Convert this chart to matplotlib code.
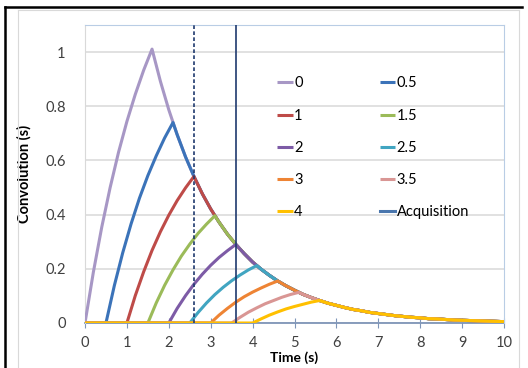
"""Convolution of acquisition windows with an exponential decay."""

import matplotlib

matplotlib.use("Agg")
import matplotlib.pyplot as plt
from matplotlib.lines import Line2D

plt.rcParams["font.family"] = ["Lato", "DejaVu Sans"]

# Series start times (s) and labels
starts = [0, 0.5, 1, 1.5, 2, 2.5, 3, 3.5, 4]
labels = ["0", "0.5", "1", "1.5", "2", "2.5", "3", "3.5", "4"]
colors = ["#a797c5", "#3b73b9", "#be4b48", "#9bbb59", "#7d5ba6",
          "#41a5c1", "#ee8434", "#d99694", "#ffc000"]

# Rising part of each curve, sampled every 0.2 s from its start time
rise_step = 0.2
rise_0 = [0, 0.188, 0.354, 0.500, 0.630, 0.744, 0.844, 0.933, 1.011]
rise_05 = [0, 0.138, 0.259, 0.366, 0.461, 0.544, 0.617, 0.683, 0.740]
rise_1 = [0, 0.101, 0.189, 0.268, 0.337, 0.398, 0.452, 0.499, 0.541]
rise_15 = [0, 0.074, 0.139, 0.196, 0.247, 0.291, 0.331, 0.365, 0.396]
rise_2 = [0, 0.054, 0.101, 0.143, 0.180, 0.213, 0.242, 0.267, 0.290]
rise_25 = [0, 0.039, 0.074, 0.105, 0.132, 0.156, 0.177, 0.196, 0.212]
rise_3 = [0, 0.029, 0.054, 0.077, 0.097, 0.114, 0.129, 0.143, 0.155]
rise_35 = [0, 0.021, 0.040, 0.056, 0.071, 0.083, 0.095, 0.105, 0.113]
rise_4 = [0, 0.015, 0.029, 0.041, 0.052, 0.061, 0.069, 0.077, 0.083]
rises = [rise_0, rise_05, rise_1, rise_15, rise_2, rise_25, rise_3, rise_35, rise_4]

# Common decay envelope that every curve follows after its peak
decay_t = [1.6, 1.8, 2.0, 2.2, 2.4, 2.6, 2.8, 3.0, 3.2, 3.4, 3.6, 3.8, 4.0,
           4.2, 4.4, 4.6, 4.8, 5.0, 5.2, 5.4, 5.6, 5.8, 6.0, 6.2, 6.4, 6.6,
           6.8, 7.0, 7.2, 7.4, 7.6, 7.8, 8.0, 8.2, 8.4, 8.6, 8.8, 9.0, 9.2,
           9.4, 9.6, 9.8, 10.0]
decay_y = [1.011, 0.892, 0.787, 0.695, 0.613, 0.541, 0.477, 0.421, 0.372,
           0.328, 0.290, 0.256, 0.225, 0.199, 0.176, 0.155, 0.137, 0.121,
           0.106, 0.094, 0.083, 0.073, 0.065, 0.057, 0.050, 0.045, 0.039,
           0.035, 0.031, 0.027, 0.024, 0.021, 0.019, 0.016, 0.015, 0.013,
           0.011, 0.010, 0.009, 0.008, 0.007, 0.006, 0.005]

# Acquisition times (s)
acq_dashed = 2.6
acq_solid = 3.6

fig = plt.figure(figsize=(5.28, 3.68), dpi=100)
ax = fig.add_axes([85 / 528, 45 / 368, 419 / 528, 298 / 368])

# outer frame: black top/left, grey chart border
fig.add_artist(Line2D([5 / 528, 522 / 528], [361 / 368, 361 / 368], color="black", lw=1.8))
fig.add_artist(Line2D([5 / 528, 5 / 528], [0, 361 / 368], color="black", lw=1.8))
fig.add_artist(Line2D([18 / 528, 519 / 528], [358 / 368, 358 / 368], color="#d9d9d9", lw=0.8))
fig.add_artist(Line2D([18 / 528, 18 / 528], [0, 358 / 368], color="#d9d9d9", lw=0.8))
fig.add_artist(Line2D([519 / 528, 519 / 528], [0, 358 / 368], color="#d9d9d9", lw=0.8))

for t0, rise, lab, col in zip(starts, rises, labels, colors):
  xs = [0] + [t0 + i * rise_step for i in range(len(rise))]
  ys = [0] + list(rise)
  peak_t = xs[-1]
  for t, y in zip(decay_t, decay_y):
    if t > peak_t + 1e-6:
      xs.append(t)
      ys.append(y)
  ax.plot(xs, ys, color=col, lw=2.2, label=lab, solid_capstyle="butt", zorder=3)

ax.axvline(acq_dashed, color="#1f3a6e", lw=1.2, ls=(0, (2.2, 1.4)), zorder=4)
ax.axvline(acq_solid, color="#1f3a6e", lw=1.2, zorder=4)
ax.plot([], [], color="#4a76ad", lw=2.2, label="Acquisition")

ax.set_xlim(0, 10)
ax.set_ylim(0, 1.1)
ax.set_xticks(range(0, 11))
ax.set_yticks([0, 0.2, 0.4, 0.6, 0.8, 1.0])
ax.set_yticklabels(["0", "0.2", "0.4", "0.6", "0.8", "1"])
ax.yaxis.grid(True, color="#d9d9d9", lw=1.1)
ax.set_axisbelow(True)

ax.spines["left"].set_color("#d9d9d9")
ax.spines["top"].set_color("#b9cde5")
ax.spines["right"].set_color("#b9cde5")
ax.spines["bottom"].set_color("#7f95b8")
ax.spines["bottom"].set_linewidth(1.3)
ax.spines["bottom"].set_zorder(2)

ax.tick_params(axis="x", direction="inout", length=7, color="#7f95b8", labelsize=10.5,
               labelcolor="#404040", pad=6)
ax.tick_params(axis="y", length=0, labelsize=10.5, labelcolor="#404040", pad=14)

ax.set_xlabel("Time (s)", fontsize=10, fontweight="bold", labelpad=0.5)
ax.set_ylabel("Convolution (s)", fontsize=10.5, fontweight="bold", labelpad=10)

# legend filled row by row, like the original two-column layout
handles, labs = ax.get_legend_handles_labels()
order = list(range(0, 10, 2)) + list(range(1, 10, 2))
ax.legend([handles[i] for i in order], [labs[i] for i in order], ncol=2,
          loc="upper left", bbox_to_anchor=(4.45 / 10, 0.847),
          frameon=False, fontsize=10.5, handlelength=1.05, handletextpad=0.1,
          columnspacing=5.3, labelspacing=1.25, borderaxespad=0)

plt.savefig("out.png", dpi=100)
